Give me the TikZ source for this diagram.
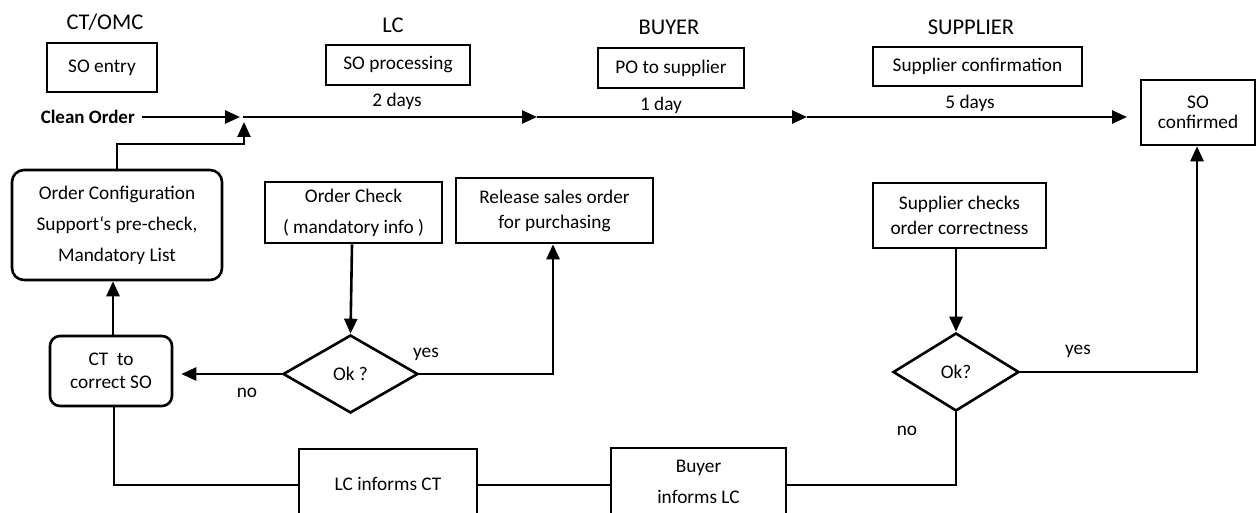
\documentclass[tikz,border=0pt]{standalone}
\usepackage{fontspec}
\setmainfont{Carlito}
\usetikzlibrary{arrows.meta,shapes.geometric}
\tikzset{
  box/.style={draw, line width=2.6pt, inner sep=0pt, align=center, font=\fontsize{19.3}{31}\selectfont},
  rbox/.style={box, rounded corners=12pt},
  dia/.style={draw, diamond, line width=2.6pt, inner sep=0pt, aspect=1.7, font=\fontsize{19.3}{22}\selectfont},
  hdr/.style={font=\fontsize{22.5}{26}\selectfont, inner sep=0pt},
  lbl/.style={font=\fontsize{19.3}{22}\selectfont, inner sep=0pt},
  ln/.style={line width=2.6pt},
  arr/.style={line width=2.6pt, -{Triangle[length=15pt,width=13pt]}},
}
\begin{document}
\begin{tikzpicture}[x=1pt,y=-1pt]
\path[use as bounding box] (0,0) rectangle (1257,513);
\clip (0,0) rectangle (1257,513);
% headers
\node[hdr] (hct) at (105,22) {CT/OMC};
\node[hdr] (hlc) at (393,25) {LC};
\node[hdr] (hbuy) at (669,27) {BUYER};
\node[hdr] (hsup) at (971,27) {SUPPLIER};
% top boxes
\node[box, minimum width=110pt, minimum height=49pt] (soentry) at (102,67.5) {SO entry};
\node[box, minimum width=144pt, minimum height=40pt] (soproc) at (398,65) {SO processing};
\node[box, minimum width=146pt, minimum height=40pt] (po) at (671,68) {PO to supplier};
\node[box, minimum width=209pt, minimum height=39pt] (supconf) at (977.5,66.5) {Supplier confirmation};
\node[box, minimum width=114pt, minimum height=65pt, font=\fontsize{19.3}{20}\selectfont] (soconf) at (1198,112.5) {SO\\confirmed};
% duration labels
\node[lbl] (d2) at (397,101) {2 days};
\node[lbl] (d1) at (661,105) {1 day};
\node[lbl] (d5) at (970,103) {5 days};
% clean order
\node[lbl, font=\fontsize{19}{22}\selectfont\bfseries, anchor=east] (clean) at (135,117) {Clean Order};
\coordinate (j1) at (240,117);
\coordinate (j0) at (243,117);
\coordinate (c1) at (537,117);
\coordinate (c2) at (807,117);
\coordinate (c3) at (1127,117);
\coordinate (jup) at (244,122);
% middle boxes
\node[rbox, minimum width=210pt, minimum height=110pt] (cfg) at (117,225) {Order Configuration\\Support‘s pre-check,\\Mandatory List};
\node[box, minimum width=177pt, minimum height=61pt] (chk) at (353.5,212.5) {Order Check\\( mandatory info )};
\node[box, minimum width=197pt, minimum height=65pt, font=\fontsize{19.3}{25}\selectfont] (rel) at (554.5,210.5) {Release sales order\\for purchasing};
\node[box, minimum width=173pt, minimum height=65pt, font=\fontsize{19.3}{25}\selectfont] (schk) at (959.5,215.5) {Supplier checks\\order correctness};
\node[rbox, rounded corners=10pt, minimum width=122pt, minimum height=70pt, font=\fontsize{19.3}{23}\selectfont] (ct) at (111,371) {CT\ \ to\\correct SO};
% diamonds
\node[dia, minimum width=135pt, minimum height=78pt] (okl) at (350.5,374) {Ok ?};
\node[dia, minimum width=126pt, minimum height=78pt] (okr) at (956,372) {Ok?};
% bottom boxes
\node[box, minimum width=178pt, minimum height=70pt] (lcinf) at (388,484) {LC informs CT};
\node[box, minimum width=175pt, minimum height=67pt] (buyinf) at (698.5,481.5) {Buyer\\informs LC};
% labels
\node[lbl] (nol) at (247,393) {no};
\node[lbl] (yesl) at (426,354) {yes};
\node[lbl] (nor) at (907,431) {no};
\node[lbl] (yesr) at (1078,351) {yes};
% main flow
\draw[arr, shorten <=7pt] (clean.east) -- (j1);
\draw[arr] (j0) -- (c1);
\draw[arr] (c1) -- (c2);
\draw[arr] (c2) -- (c3);
\draw[arr] (cfg.north) |- (jup |- 0,144) -- (jup);
% feedback
\draw[arr] (ct.north -| 113,0) -- (cfg.south -| 113,0);
\draw[arr] (chk.south -| 352,0) -- (okl.north);
\draw[arr, shorten >=8pt] (okl.west) -- (ct.east |- okl.west);
\draw[arr] (okl.east) -- (553,374) -- (rel.south -| 553,0);
\draw[arr] (schk.south -| okr.north) -- (okr.north);
\draw[arr] (okr.east) -- (1197,372) -- (soconf.south -| 1197,0);
\draw[ln] (ct.south -| 114,0) -- (114,485) -- (lcinf.west |- 0,485);
\draw[ln] (lcinf.east |- 0,485) -- (buyinf.west |- 0,485);
\draw[ln] (buyinf.east |- 0,485) -- (okr.south |- 0,485) -- (okr.south);
\end{tikzpicture}
\end{document}
